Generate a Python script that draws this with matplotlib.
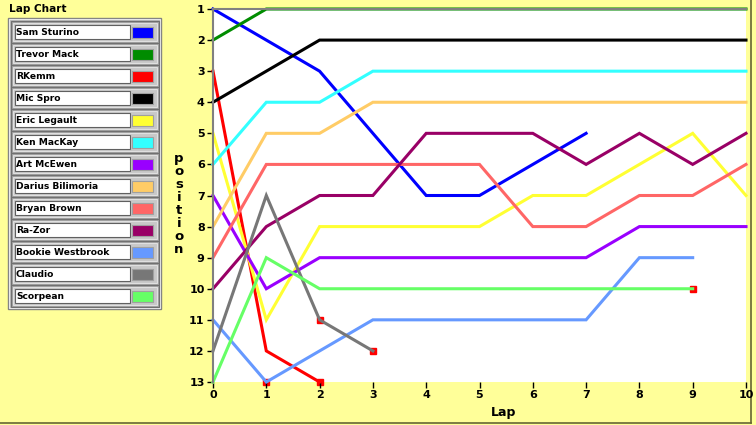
import matplotlib
matplotlib.use("Agg")
import matplotlib.pyplot as plt
from matplotlib.patches import Rectangle


# Lap chart data: finishing position after each lap
drivers = [
    "Sam Sturino", "Trevor Mack", "RKemm", "Mic Spro", "Eric Legault",
    "Ken MacKay", "Art McEwen", "Darius Bilimoria", "Bryan Brown",
    "Ra-Zor", "Bookie Westbrook", "Claudio", "Scorpean",
]
driver_colors = [
    "#0000FF", "#008C00", "#FF0000", "#000000", "#FFFF33",
    "#33FFFF", "#9900FF", "#FFCC66", "#FF6666",
    "#990066", "#6699FF", "#777777", "#66FF66",
]

sam_sturino = [1, 2, 3, 5, 7, 7, 6, 5]
trevor_mack = [2, 1, 1, 1, 1, 1, 1, 1, 1, 1, 1]
rkemm = [3, 12, 13]
mic_spro = [4, 3, 2, 2, 2, 2, 2, 2, 2, 2, 2]
eric_legault = [5, 11, 8, 8, 8, 8, 7, 7, 6, 5, 7]
ken_mackay = [6, 4, 4, 3, 3, 3, 3, 3, 3, 3, 3]
art_mcewen = [7, 10, 9, 9, 9, 9, 9, 9, 8, 8, 8]
darius_bilimoria = [8, 5, 5, 4, 4, 4, 4, 4, 4, 4, 4]
bryan_brown = [9, 6, 6, 6, 6, 6, 8, 8, 7, 7, 6]
ra_zor = [10, 8, 7, 7, 5, 5, 5, 6, 5, 6, 5]
bookie_westbrook = [11, 13, 12, 11, 11, 11, 11, 11, 9, 9]
claudio = [12, 7, 11, 12]
scorpean = [13, 9, 10, 10, 10, 10, 10, 10, 10, 10]

positions = [
    sam_sturino, trevor_mack, rkemm, mic_spro, eric_legault,
    ken_mackay, art_mcewen, darius_bilimoria, bryan_brown,
    ra_zor, bookie_westbrook, claudio, scorpean,
]

# red squares (retirements / incidents)
mark_laps = [1, 2, 2, 3, 9]
mark_pos = [13, 13, 11, 12, 10]

lap_ticks = list(range(0, 11))
pos_ticks = list(range(1, 14))

BG = "#FFFF99"
W, H = 756, 425


def px_rect(x, y, w, h):
    """Pixel box (top-left origin) -> figure fraction [l, b, w, h]."""
    return [x / W, 1 - (y + h) / H, w / W, h / H]


def ve_legend(ov):
    """Grey bevelled legend panel drawn in pixel coords."""
    ov.text(9, 9, "Lap Chart", fontsize=7.6, fontweight="bold",
            ha="left", va="center")
    ov.add_patch(Rectangle((8, 18), 153, 291, facecolor="#B8B8B8",
                           edgecolor="#808080", linewidth=1))
    ov.add_patch(Rectangle((9, 19), 151, 289, facecolor="none",
                           edgecolor="#E8E8E8", linewidth=0.8))
    for i, (name, col) in enumerate(zip(drivers, driver_colors)):
        y0 = 21 + 22 * i
        ov.add_patch(Rectangle((10.5, y0), 148, 22, facecolor="#A0A0A0",
                               edgecolor="#707070", linewidth=0.8))
        ov.add_patch(Rectangle((12.5, y0 + 2), 144, 18, facecolor="#C8C8C8",
                               edgecolor="#E0E0E0", linewidth=0.8))
        ov.add_patch(Rectangle((15, y0 + 4), 115, 14, facecolor="white",
                               edgecolor="#606060", linewidth=0.8))
        ov.add_patch(Rectangle((132, y0 + 6), 21, 11, facecolor=col,
                               edgecolor="#A0A0A0", linewidth=0.8))
        ov.text(16, y0 + 11.5, name, fontsize=6.6, fontweight="bold",
                ha="left", va="center")


def ve_bieu_do():
    fig = plt.figure(figsize=(W / 100, H / 100), dpi=100, facecolor=BG)

    # overlay in pixel coordinates for legend and frame
    ov = fig.add_axes([0, 0, 1, 1])
    ov.set_xlim(0, W)
    ov.set_ylim(H, 0)
    ov.axis("off")
    ov.patch.set_visible(False)
    ve_legend(ov)
    ov.plot([751, 751], [0, 423], color="#666633", linewidth=1.2)
    ov.plot([0, 751], [423, 423], color="#666633", linewidth=1.2)

    ax = fig.add_axes(px_rect(213, 9, 533, 373))
    ax.set_facecolor("white")

    ax.plot(mark_laps, mark_pos, linestyle="none", marker="s",
            markersize=5, color="#FF0000", zorder=1, clip_on=False)
    for pos, col in zip(positions, driver_colors):
        laps = list(range(len(pos)))
        ax.plot(laps, pos, color=col, linewidth=2.2, zorder=2,
                solid_joinstyle="miter", clip_on=False)

    ax.set_xlim(0, 10)
    ax.set_ylim(13, 1)
    ax.set_xticks(lap_ticks)
    ax.set_yticks(pos_ticks)
    ax.tick_params(axis="both", length=4.5, width=1, color="black",
                   labelsize=8, pad=1.5)
    for lbl in ax.get_xticklabels() + ax.get_yticklabels():
        lbl.set_fontweight("bold")

    for side in ("bottom", "right"):
        ax.spines[side].set_visible(False)
    for side in ("left", "top"):
        ax.spines[side].set_color("#808080")
        ax.spines[side].set_linewidth(1.5)

    ax.set_xlabel("Lap", fontsize=9, fontweight="bold")
    ax.xaxis.set_label_coords((504 - 213) / 533, (382 - 406) / 373)
    ax.set_ylabel("p\no\ns\ni\nt\ni\no\nn", fontsize=9.5, fontweight="bold",
                  rotation=0, ha="center", va="center", linespacing=1.0)
    ax.yaxis.set_label_coords((179 - 213) / 533, (382 - 204) / 373)

    fig.savefig("out.png", dpi=100, facecolor=BG)


def main():
    ve_bieu_do()


if __name__ == "__main__":
    main()
